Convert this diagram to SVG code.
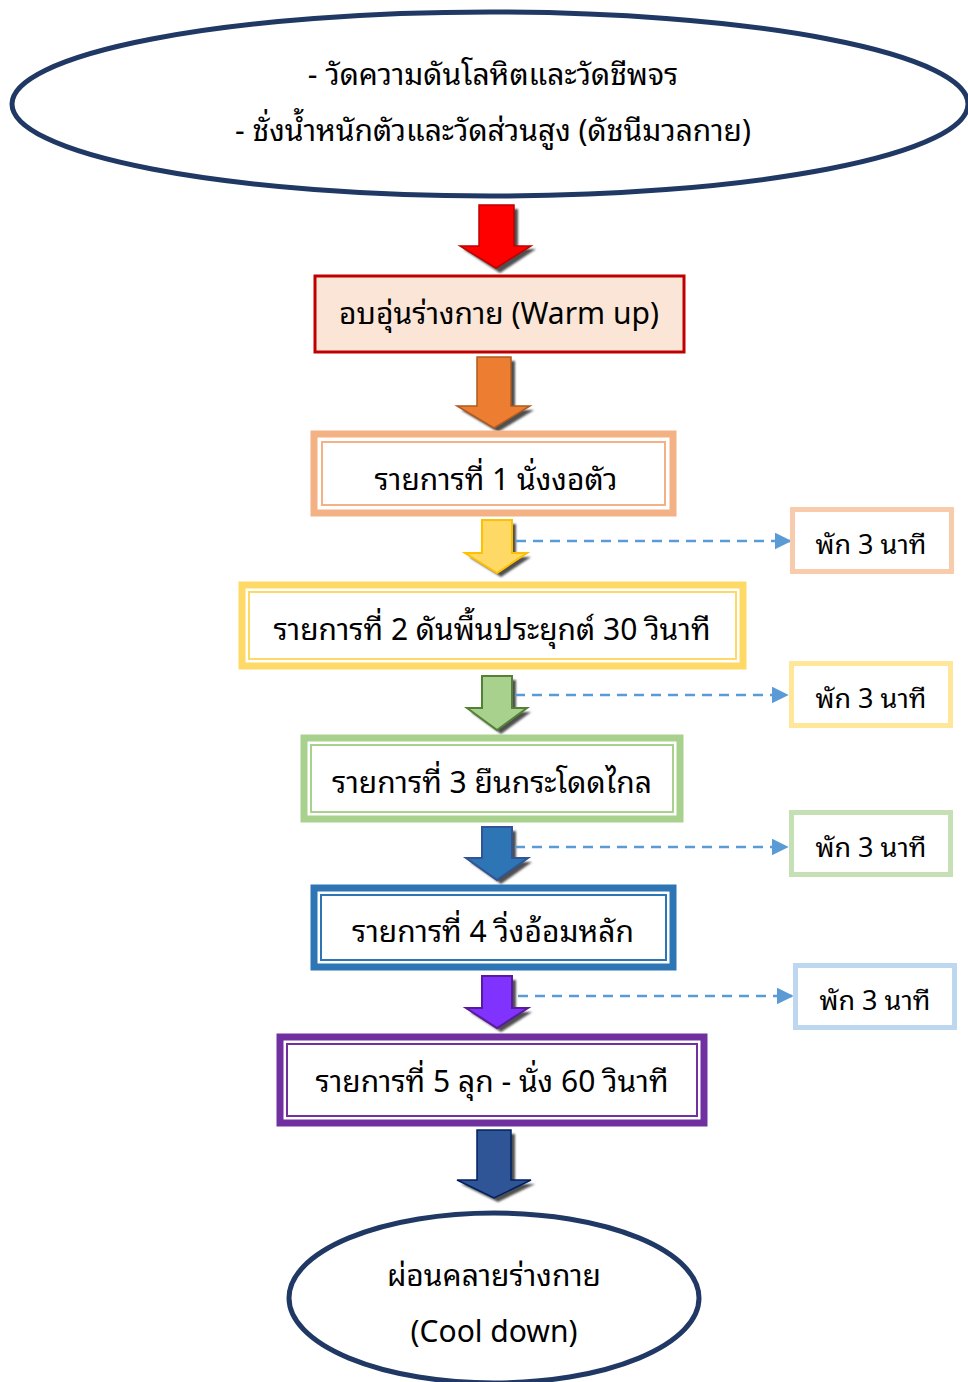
<svg xmlns="http://www.w3.org/2000/svg" width="968" height="1382" viewBox="0 0 968 1382">
<defs>
<style>
text{font-family:"Noto Sans Thai Looped","Waree","Loma","Garuda","Noto Sans Thai","Noto Sans",sans-serif;font-size:30px;fill:#000;text-anchor:middle}
.side text{font-size:27px}
.dash{stroke:#5b9bd5;stroke-width:2.5;stroke-dasharray:10 7;fill:none}
.shadow{fill:#505050}
</style>
<filter id="blur" x="-20%" y="-20%" width="140%" height="140%"><feGaussianBlur stdDeviation="1"/></filter>
<marker id="tri" viewBox="0 0 10 10" refX="9" refY="5" markerWidth="17" markerHeight="17" markerUnits="userSpaceOnUse" orient="auto"><path d="M0 0 L10 5 L0 10 Z" fill="#5b9bd5"/></marker>
</defs>
<rect width="968" height="1382" fill="#fff"/>

<g id="start">
<ellipse cx="490" cy="104" rx="478" ry="92" fill="#fff" stroke="#203864" stroke-width="5"/>
<text x="493" y="85">- วัดความดันโลหิตและวัดชีพจร</text>
<text x="493" y="141">- ชั่งน้ำหนักตัวและวัดส่วนสูง (ดัชนีมวลกาย)</text>
</g>

<g id="connectors">
<g id="arrow1">
<polygon class="shadow" filter="url(#blur)" points="483,209 518,209 518,249 536,249 500,273 463,249 483,249"/>
<polygon points="479,205 514,205 514,246 531,246 496,268 460,246 479,246" fill="#ff0000" stroke="#c00000" stroke-width="1.5"/>
</g>
<g id="arrow2">
<polygon class="shadow" filter="url(#blur)" points="481,361 515,361 515,410 534,410 498,432 461,410 481,410" />
<polygon points="477,357 511,357 511,406 530,406 494,428 457,406 477,406" fill="#ed7d31" stroke="#ae5a21" stroke-width="1.5"/>
</g>
<g id="arrow3">
<polygon class="shadow" filter="url(#blur)" points="486,524 516,524 516,557 531,557 501,577 469,557 486,557"/>
<polygon points="482,520 512,520 512,553 527,553 497,573 465,553 482,553" fill="#ffd966" stroke="#ffc000" stroke-width="2"/>
</g>
<g id="arrow4">
<polygon class="shadow" filter="url(#blur)" points="486,680 516,680 516,712 531,712 501,734 471,712 486,712"/>
<polygon points="482,676 512,676 512,708 527,708 497,730 467,708 482,708" fill="#a9d18e" stroke="#538135" stroke-width="2"/>
</g>
<g id="arrow5">
<polygon class="shadow" filter="url(#blur)" points="486,831 516,831 516,862 532,862 501,884 470,862 486,862"/>
<polygon points="482,827 512,827 512,858 528,858 497,880 466,858 482,858" fill="#2e75b6" stroke="#2f5597" stroke-width="2"/>
</g>
<g id="arrow6">
<polygon class="shadow" filter="url(#blur)" points="486,980 516,980 516,1012 532,1012 501,1032 470,1012 486,1012"/>
<polygon points="482,976 512,976 512,1008 528,1008 497,1028 466,1008 482,1008" fill="#8033ff" stroke="#5b1a9c" stroke-width="2"/>
</g>
<g id="arrow7">
<polygon class="shadow" filter="url(#blur)" points="481,1134 515,1134 515,1184 535,1184 498,1202 461,1184 481,1184"/>
<polygon points="477,1130 511,1130 511,1180 531,1180 494,1198 457,1180 477,1180" fill="#2f5597" stroke="#002060" stroke-width="1.5"/>
</g>
<line class="dash" x1="516" y1="541" x2="790" y2="541" marker-end="url(#tri)"/>
<line class="dash" x1="515" y1="695" x2="787" y2="695" marker-end="url(#tri)"/>
<line class="dash" x1="515" y1="847" x2="787" y2="847" marker-end="url(#tri)"/>
<line class="dash" x1="518" y1="996" x2="792" y2="996" marker-end="url(#tri)"/>
</g>

<g id="warmup">
<rect x="315" y="276" width="369" height="76" fill="#fbe5d6" stroke="#c00000" stroke-width="3"/>
<text x="499" y="324">อบอุ่นร่างกาย (Warm up)</text>
</g>

<g id="step1">
<rect x="314" y="434" width="359" height="79" fill="#fff" stroke="#f4b183" stroke-width="7"/>
<rect x="322" y="442" width="343" height="63" fill="none" stroke="#f4b183" stroke-width="2"/>
<text x="496" y="490">รายการที่ 1 นั่งงอตัว</text>
</g>

<g id="step2">
<rect x="242" y="585" width="501" height="81" fill="#fff" stroke="#ffd966" stroke-width="7"/>
<rect x="249" y="592" width="487" height="67" fill="none" stroke="#ffd966" stroke-width="2"/>
<text x="492" y="640">รายการที่ 2 ดันพื้นประยุกต์ 30 วินาที</text>
</g>

<g id="step3">
<rect x="304" y="738" width="376" height="81" fill="#fff" stroke="#a9d18e" stroke-width="7"/>
<rect x="311" y="745" width="362" height="67" fill="none" stroke="#a9d18e" stroke-width="2"/>
<text x="492" y="793">รายการที่ 3 ยืนกระโดดไกล</text>
</g>

<g id="step4">
<rect x="314" y="888" width="359" height="79" fill="#fff" stroke="#2e75b6" stroke-width="7"/>
<rect x="321" y="895" width="345" height="65" fill="none" stroke="#2e75b6" stroke-width="2"/>
<text x="493" y="942">รายการที่ 4 วิ่งอ้อมหลัก</text>
</g>

<g id="step5">
<rect x="280" y="1037" width="424" height="86" fill="#fff" stroke="#7030a0" stroke-width="7"/>
<rect x="287" y="1044" width="410" height="72" fill="none" stroke="#7030a0" stroke-width="2"/>
<text x="492" y="1092">รายการที่ 5 ลุก - นั่ง 60 วินาที</text>
</g>

<g class="side">
<g id="rest1">
<rect x="792.5" y="509.5" width="159" height="62" fill="#fff" stroke="#f8cbad" stroke-width="5"/>
<text x="871" y="554">พัก 3 นาที</text>
</g>
<g id="rest2">
<rect x="791.5" y="663.5" width="159" height="62" fill="#fff" stroke="#ffe699" stroke-width="5"/>
<text x="871" y="708">พัก 3 นาที</text>
</g>
<g id="rest3">
<rect x="791.5" y="812.5" width="159" height="62" fill="#fff" stroke="#c5e0b4" stroke-width="5"/>
<text x="871" y="857">พัก 3 นาที</text>
</g>
<g id="rest4">
<rect x="795.5" y="965.5" width="159" height="62" fill="#fff" stroke="#bdd7ee" stroke-width="5"/>
<text x="875" y="1010">พัก 3 นาที</text>
</g>
</g>

<g id="cooldown">
<ellipse cx="494" cy="1298" rx="205" ry="85" fill="#fff" stroke="#203864" stroke-width="5"/>
<text x="494" y="1286">ผ่อนคลายร่างกาย</text>
<text x="494" y="1342">(Cool down)</text>
</g>
</svg>
